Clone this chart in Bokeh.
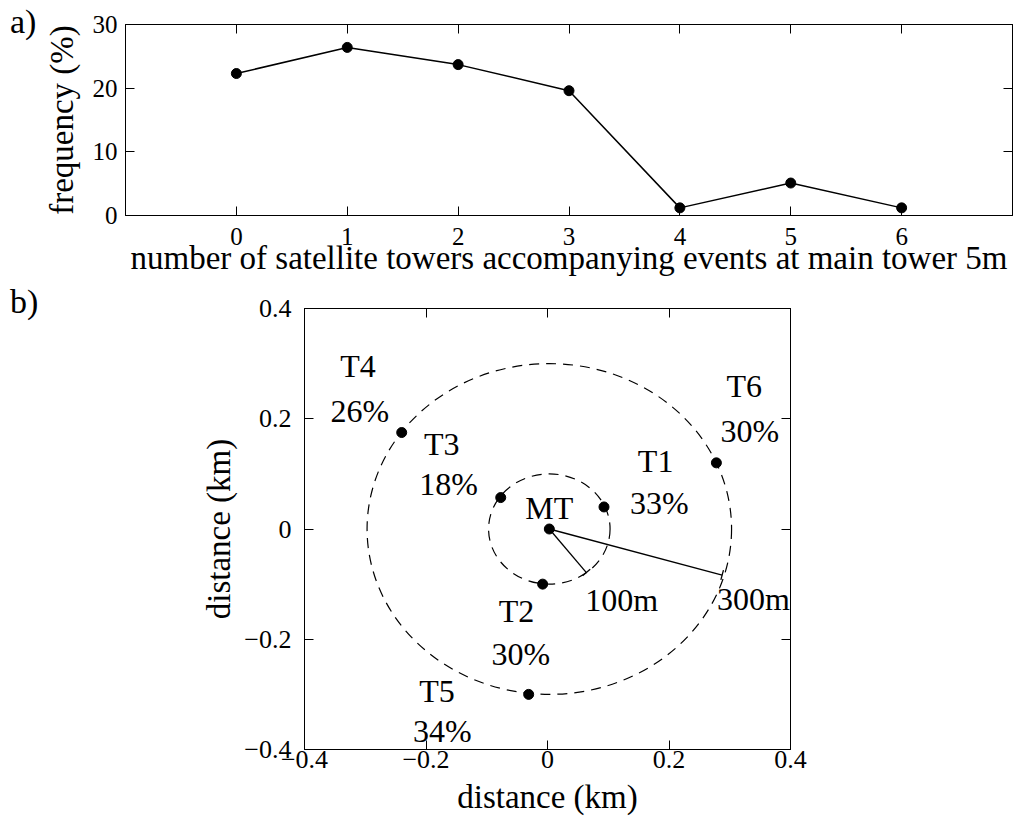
from bokeh.plotting import figure
from bokeh.layouts import column, row
from bokeh.models import (Range1d, FixedTicker, LinearAxis, Div,
                          CustomJSTickFormatter, ColumnDataSource)
from bokeh.core.properties import value
from bokeh.embed import file_html
from bokeh.resources import INLINE

SERIF = "Liberation Serif"

# ---- panel a: frequency of accompanying satellite-tower events ----
n_towers = [0, 1, 2, 3, 4, 5, 6]
frequency = [22.3, 26.4, 23.7, 19.6, 1.2, 5.1, 1.2]
a_xticks = [0, 1, 2, 3, 4, 5, 6]
a_yticks = [0, 10, 20, 30]

# ---- panel b: tower layout around the main tower ----
tower_names = ["MT", "T1", "T2", "T3", "T4", "T5", "T6"]
tower_x = [0.003, 0.093, -0.008, -0.077, -0.240, -0.031, 0.278]
tower_y = [0.0, 0.040, -0.100, 0.057, 0.175, -0.300, 0.120]
name_x = [0.003, 0.178, -0.051, -0.174, -0.312, -0.182, 0.324]
name_y = [0.039, 0.123, -0.149, 0.154, 0.296, -0.293, 0.260]
pct_labels = ["33%", "30%", "18%", "26%", "34%", "30%"]
pct_x = [0.184, -0.044, -0.163, -0.309, -0.173, 0.333]
pct_y = [0.048, -0.227, 0.082, 0.214, -0.367, 0.178]
ring_radius = [0.1, 0.3]
bar_end_x = [0.064, 0.2875]
bar_end_y = [-0.079, -0.0835]
bar_labels = ["100m", "300m"]
bar_label_x = [0.122, 0.339]
bar_label_y = [-0.128, -0.127]
b_ticks = [-0.4, -0.2, 0, 0.2, 0.4]
b_tick_text = {-0.4: "\u22120.4", -0.2: "\u22120.2", 0: "0", 0.2: "0.2", 0.4: "0.4"}


def box_axes(p, xticks, yticks, tick_size, overrides=None):
    """MATLAB-like boxed axes: inward ticks on all four sides.
    Returns the (bottom, left) axes that carry labels."""
    xa, ya = p.below[0], p.left[0]
    xa.ticker = FixedTicker(ticks=xticks)
    ya.ticker = FixedTicker(ticks=yticks)
    for ax in (xa, ya):
        ax.major_tick_in = 9
        ax.major_tick_out = 0
        ax.minor_tick_line_color = None
        ax.axis_line_color = "black"
        ax.major_tick_line_color = "black"
        ax.major_label_text_font = SERIF
        ax.major_label_text_font_size = tick_size
        ax.major_label_text_color = "black"
        ax.axis_label_text_font = SERIF
        ax.axis_label_text_font_style = "normal"
        ax.axis_label_text_font_size = "33px"
        ax.axis_label_text_color = "black"
        if overrides:
            ax.major_label_overrides = overrides
    blank = CustomJSTickFormatter(code="return ''")
    for side, ticks in (("above", xticks), ("right", yticks)):
        ax = LinearAxis(ticker=FixedTicker(ticks=ticks), formatter=blank,
                        major_tick_in=9, major_tick_out=0,
                        minor_tick_line_color=None, axis_line_color="black",
                        major_label_text_font_size="1px",
                        major_label_standoff=0)
        p.add_layout(ax, side)
    p.xgrid.visible = False
    p.ygrid.visible = False
    p.outline_line_color = "black"
    p.background_fill_color = "white"
    p.border_fill_color = "white"
    return xa, ya


def panel_tag(letter, pad_top):
    style = ("font-family: 'Liberation Serif'; font-size: 34px; line-height: 34px;"
             f" color: black; padding: {pad_top}px 0 0 10px; margin: 0;")
    return Div(text=f'<div style="{style}">{letter}</div>', width=TAG_W, height=44,
               margin=0)


TAG_W = 40

# ---------------- panel a ----------------
pa = figure(width=1025 - TAG_W, height=285, output_backend="svg", toolbar_location=None,
            x_range=Range1d(-1, 7), y_range=Range1d(0, 30),
            min_border_left=125 - TAG_W, min_border_right=13,
            min_border_top=24, min_border_bottom=70)
xa_a, ya_a = box_axes(pa, a_xticks, a_yticks, "25px")
xa_a.axis_label = "number of satellite towers accompanying events at main tower 5m"
ya_a.axis_label = "frequency (%)"
xa_a.major_label_standoff = 12
xa_a.axis_label_standoff = -8
ya_a.major_label_standoff = 8
ya_a.axis_label_standoff = 10

src_a = ColumnDataSource(dict(n=n_towers, f=frequency))
pa.line("n", "f", source=src_a, line_color="black", line_width=1.5)
pa.scatter("n", "f", source=src_a, size=10, color="black")

# ---------------- panel b ----------------
pb = figure(width=1025 - TAG_W, height=533, output_backend="svg", toolbar_location=None,
            x_range=Range1d(-0.4, 0.4), y_range=Range1d(-0.4, 0.4),
            min_border_left=304 - TAG_W, min_border_right=235,
            min_border_top=23, min_border_bottom=69)
xa_b, ya_b = box_axes(pb, b_ticks, b_ticks, "26px", overrides=b_tick_text)
xa_b.axis_label = "distance (km)"
ya_b.axis_label = "distance (km)"
xa_b.major_label_standoff = 1
xa_b.axis_label_standoff = 8
ya_b.major_label_standoff = 13
ya_b.axis_label_standoff = 4

# dashed range rings around the main tower
pb.ellipse(x=[tower_x[0]] * 2, y=[tower_y[0]] * 2,
           width=[2 * r for r in ring_radius], height=[2 * r for r in ring_radius],
           fill_color=None, line_color="black", line_width=1.2, line_dash="10 7")

# scale bars from the main tower, with end caps perpendicular on screen
fw, fh = 486.0, 441.0
sx, sy = fw / 0.8, fh / 0.8
cap = 5.0
cap_x0, cap_y0, cap_x1, cap_y1 = [], [], [], []
for ex, ey in zip(bar_end_x, bar_end_y):
    dx, dy = (ex - tower_x[0]) * sx, (ey - tower_y[0]) * sy
    ln = (dx * dx + dy * dy) ** 0.5
    px, py = -dy / ln * cap, dx / ln * cap
    cap_x0.append(ex - px / sx)
    cap_y0.append(ey - py / sy)
    cap_x1.append(ex + px / sx)
    cap_y1.append(ey + py / sy)
pb.segment(x0=[tower_x[0]] * 2, y0=[tower_y[0]] * 2, x1=bar_end_x, y1=bar_end_y,
           line_color="black", line_width=1.3)
pb.segment(x0=cap_x0, y0=cap_y0, x1=cap_x1, y1=cap_y1,
           line_color="black", line_width=1.3)

pb.scatter(tower_x, tower_y, size=10, color="black")

for xs, ys, labels in ((name_x, name_y, tower_names), (pct_x, pct_y, pct_labels),
                       (bar_label_x, bar_label_y, bar_labels)):
    pb.text(x=xs, y=ys, text=labels, text_font=value(SERIF),
            text_font_size="32px", text_align="center", text_baseline="middle",
            text_color="black")

# panel tags sit beside each figure; each row keeps its own frame borders
layout = column(row(panel_tag("a)", 5), pa, spacing=0),
                row(panel_tag("b)", 0), pb, spacing=0), spacing=0)
open("out.html", "w").write(file_html(layout, INLINE))
